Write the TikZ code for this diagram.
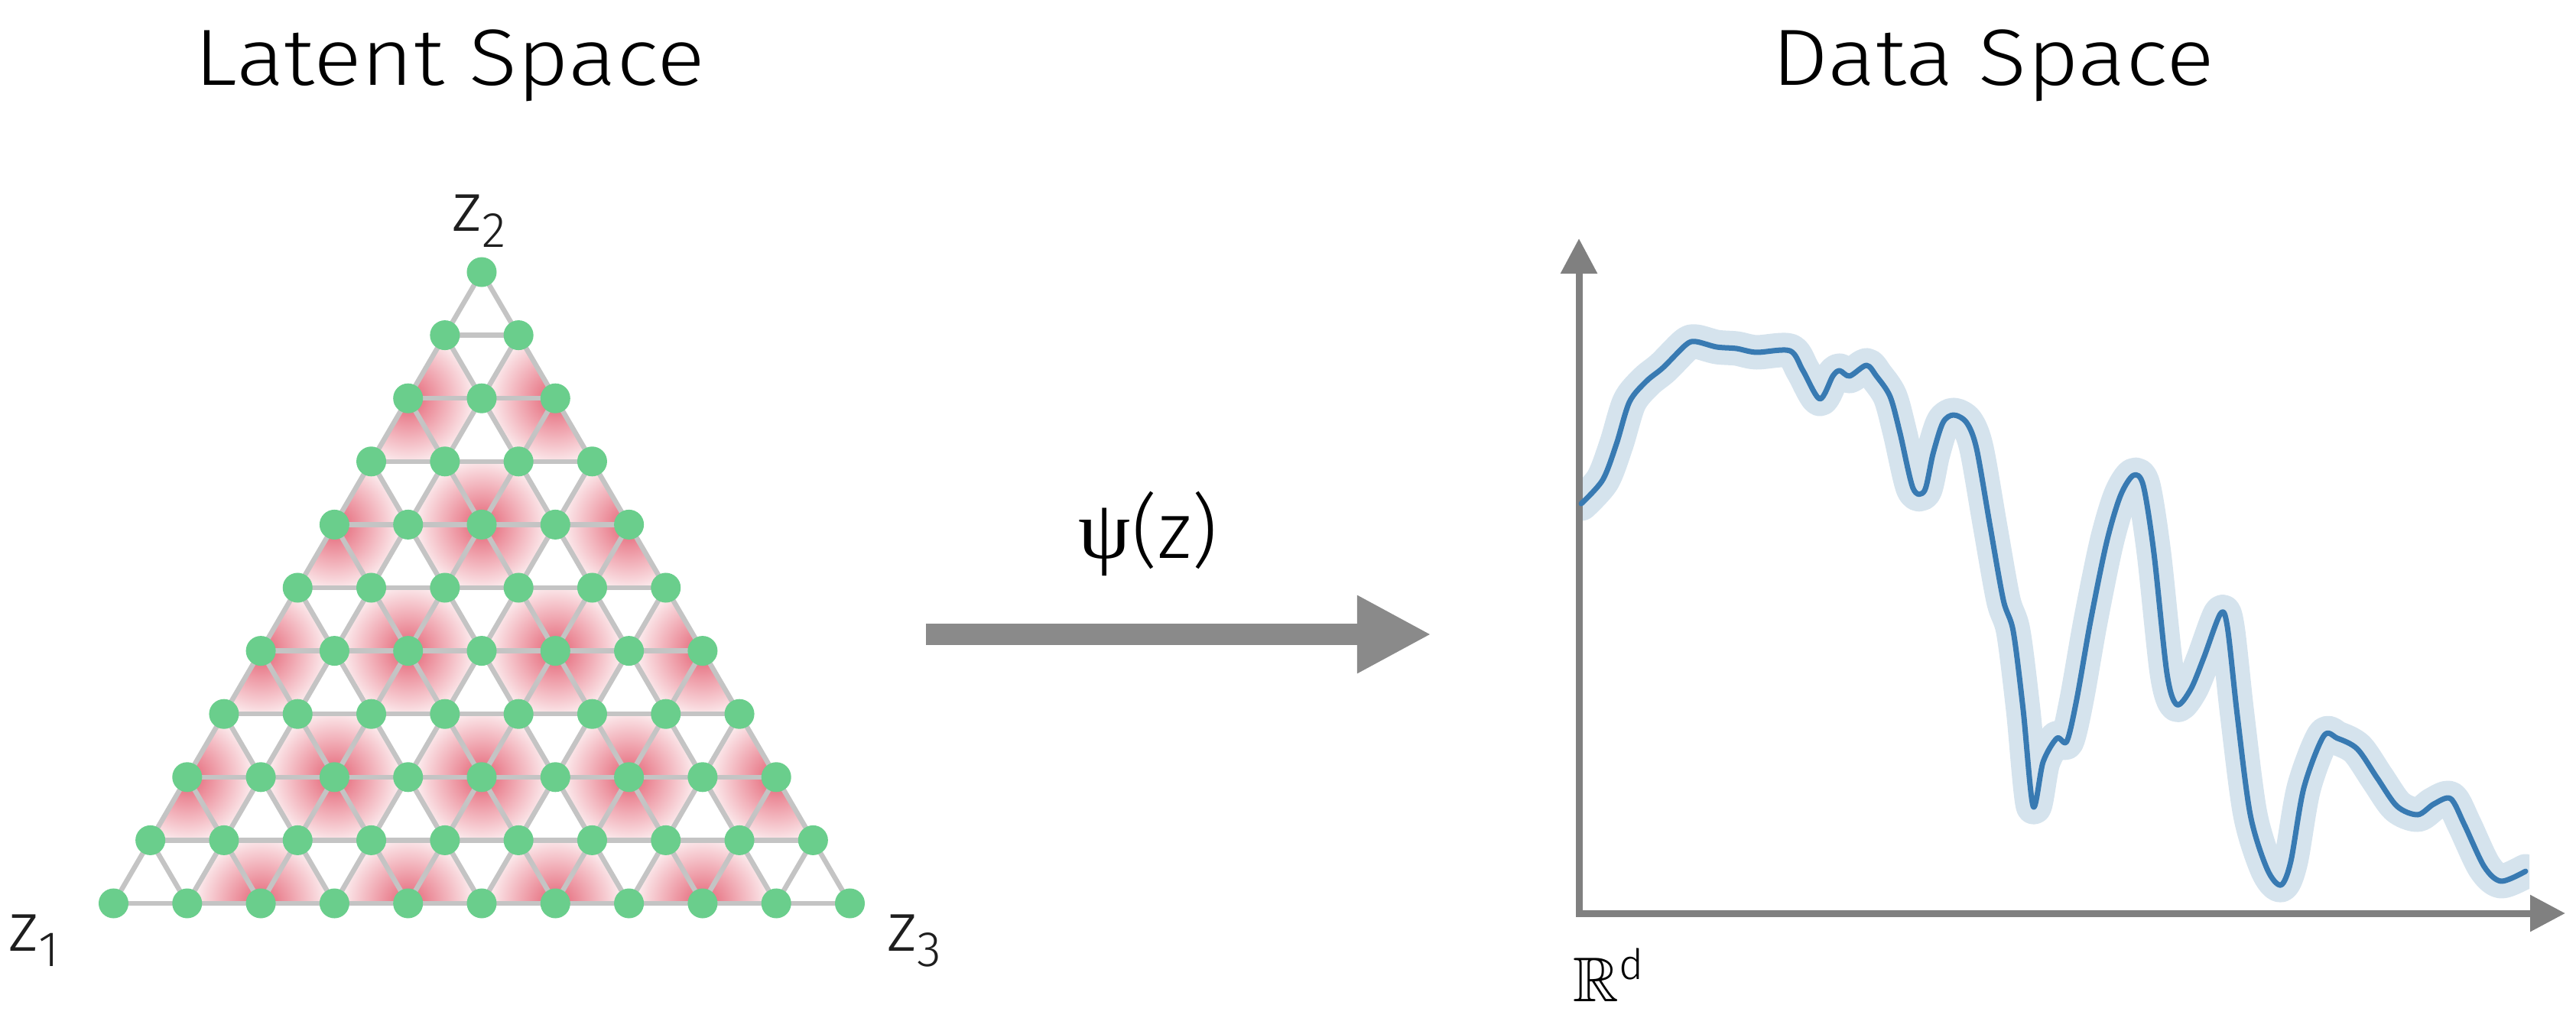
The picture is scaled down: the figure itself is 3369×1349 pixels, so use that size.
\documentclass[tikz,border=0pt]{standalone}
\usepackage{amssymb}
\usepackage{fontspec}
\usetikzlibrary{arrows.meta}
\IfFontExistsTF{Fira Sans Light}{%
  \setmainfont{Fira Sans Light}%
  \newfontfamily\titlefont{Fira Sans Light}[FakeStretch=1.12]%
}{%
  \IfFontExistsTF{FiraSans-Light.otf}{%
    \setmainfont{FiraSans-Light.otf}%
    \newfontfamily\titlefont{FiraSans-Light.otf}[FakeStretch=1.12]%
  }{%
    \setmainfont{Fira Sans}%
    \newfontfamily\titlefont{Fira Sans}[FakeStretch=1.12]%
  }%
}
\newfontfamily\psifont{Liberation Serif}
\definecolor{dotgreen}{RGB}{106,206,140}
\definecolor{gridgray}{RGB}{196,196,196}
\definecolor{pinkc}{RGB}{228,96,114}
\definecolor{arrowgray}{RGB}{138,138,138}
\definecolor{axisgray}{RGB}{128,128,128}
\definecolor{curveblue}{RGB}{56,122,178}
\definecolor{haloblue}{RGB}{213,227,237}
\definecolor{labelc}{RGB}{30,30,30}
\newcommand\zsub[1]{\raisebox{-0.2cm}{\fontsize{18.5}{19}\selectfont #1}}
\begin{document}
\begin{tikzpicture}[x=0.01cm,y=-0.01cm,
  gridline/.style={draw=gridgray, line width=0.065cm},
  dot/.style={circle, fill=dotgreen, minimum size=0.39cm, inner sep=0pt, outer sep=0pt},
  lbl/.style={inner sep=0pt, text=labelc, font=\fontsize{25.9}{27}\selectfont},
  title/.style={inner sep=0pt, text=black, font=\titlefont\fontsize{29.7}{32}\selectfont},
  bigarrow/.style={draw=arrowgray, line width=0.27cm, -{Triangle[length=0.97cm,width=0.95cm]}},
  axisline/.style={draw=axisgray, line width=0.09cm, line join=miter,
    {Triangle[length=0.46cm,width=0.46cm]}-{Triangle[length=0.46cm,width=0.46cm]}},
  halo/.style={draw=haloblue, line width=0.45cm, line join=round, line cap=round},
  core/.style={draw=curveblue, line width=0.07cm, line join=round, line cap=round}
]
\useasboundingbox (0,0) rectangle (3369,1349);

% titles
\node[title, anchor=base] (t1) at (588,112) {Latent Space};
\node[title, anchor=base] (t2) at (2607,112) {Data Space};

% lattice coordinates
\foreach \r in {0,...,10}{
  \foreach \i in {0,...,\r}{
    \coordinate (v-\r-\i) at ({630+(\i-\r/2)*96.3},{356+\r*82.6});
  }
}

% pink shading
\begin{scope}
  \clip (v-0-0) -- (v-10-0) -- (v-10-10) -- cycle;
  \foreach \r/\i in {2/0,2/2,4/0,4/2,4/4,6/0,6/2,6/4,6/6,8/0,8/2,8/4,8/6,8/8,10/2,10/4,10/6,10/8}{
    \begin{scope}
      \clip[shift={(v-\r-\i)}] (-96.3,0) -- (-48.15,-82.6) -- (48.15,-82.6) -- (96.3,0) -- (48.15,82.6) -- (-48.15,82.6) -- cycle;
      \shade[inner color=pinkc, outer color=white] (v-\r-\i) circle[radius=0.98cm];
    \end{scope}
  }
\end{scope}

% grid lines
\foreach \r in {1,...,10}{\draw[gridline] (v-\r-0) -- (v-\r-\r);}
\foreach \i in {0,...,9}{\draw[gridline] (v-\i-\i) -- (v-10-\i);}
\foreach \k in {0,...,9}{\pgfmathtruncatemacro\e{10-\k}\draw[gridline] (v-\k-0) -- (v-10-\e);}

% dots
\foreach \r in {0,...,10}{
  \foreach \i in {0,...,\r}{
    \node[dot] (d-\r-\i) at (v-\r-\i) {};
  }
}

% vertex labels
\node[lbl, anchor=base west] (z2) at (591,303) {z\zsub{2}};
\node[lbl, anchor=base west] (z1) at (11,1244) {z\zsub{1}};
\node[lbl, anchor=base west] (z3) at (1160,1244) {z\zsub{3}};

% mapping arrow
\coordinate (a1) at (1211,830);
\coordinate (a2) at (1872,830);
\draw[bigarrow] (a1) -- (a2);
\node[anchor=base west, inner sep=0pt] (psi) at (1410,730)
  {\psifont\fontsize{31}{33}\selectfont ψ\kern0.02cm\fontspec{Fira Sans Light}\fontsize{29.7}{31}\selectfont(z)};

% axes
\coordinate (ytip) at (2065,312);
\coordinate (orig) at (2065,1195);
\coordinate (xtip) at (3355,1195);
\draw[axisline] (ytip) -- (orig) -- (xtip);
\node[anchor=base west, inner sep=0pt, font=\fontsize{23.5}{24}\selectfont] (rd) at (2057,1310)
  {$\mathbb{R}$\raisebox{0.28cm}{\fontsize{15.6}{16}\selectfont d}};

% curve
\def\curvepts{(2068,659) (2096,628) (2114,581) (2131,526) (2153,499) (2175,481) (2205,451) (2218,447) (2245,454) (2271,456) (2297,461) (2341,459) (2358,485) (2380,522) (2397,492) (2406,485) (2419,492) (2441,478) (2454,492) (2472,519) (2485,567) (2502,639) (2517,642) (2528,594) (2541,553) (2555,543) (2572,553) (2585,587) (2603,690) (2620,785) (2633,826) (2646,929) (2659,1055) (2672,997) (2690,966) (2703,970) (2716,915) (2734,813) (2755,710) (2773,649) (2790,622) (2803,635) (2817,724) (2834,881) (2847,922) (2865,902) (2882,861) (2904,803) (2913,820) (2926,936) (2943,1066) (2965,1137) (2983,1158) (2996,1127) (3013,1031) (3039,963) (3057,966) (3083,980) (3109,1018) (3135,1055) (3162,1066) (3183,1052) (3205,1045) (3223,1079) (3249,1134) (3271,1153) (3303,1140)}
\begin{scope}
  \clip (2070,0) rectangle (3308,1349);
  \draw[halo] plot[smooth, tension=0.5] coordinates {\curvepts};
\end{scope}
\draw[core] plot[smooth, tension=0.5] coordinates {\curvepts};
\end{tikzpicture}
\end{document}
